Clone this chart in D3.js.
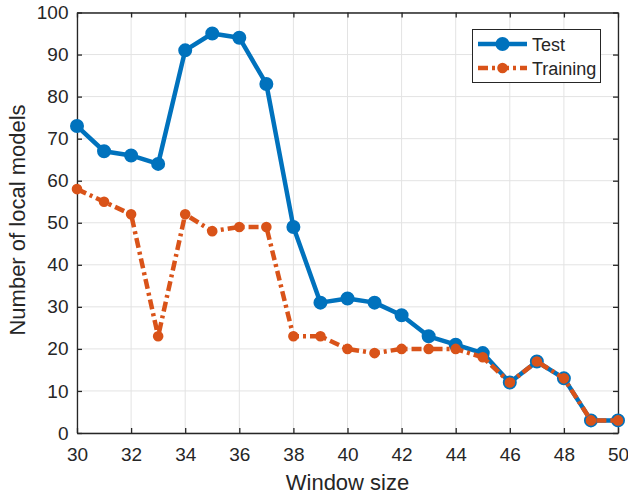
<!DOCTYPE html>
<html><head><meta charset="utf-8">
<script src="https://cdn.jsdelivr.net/npm/d3@7"></script>
<style>body{margin:0;background:#fff}text{font-family:"Liberation Sans",Arial,sans-serif;fill:#262626}</style>
</head><body>
<svg id="c" width="628" height="496"></svg>
<script>
const windowSizes = [30,31,32,33,34,35,36,37,38,39,40,41,42,43,44,45,46,47,48,49,50];
const testValues = [73,67,66,64,91,95,94,83,49,31,32,31,28,23,21,19,12,17,13,3,3];
const trainingValues = [58,55,52,23,52,48,49,49,23,23,20,19,20,20,20,18,12,17,13,3,3];
const xTicks = [30,32,34,36,38,40,42,44,46,48,50];
const yTicks = [0,10,20,30,40,50,60,70,80,90,100];
const seriesNames = ["Test","Training"];

(function(){
const svg = d3.select("#c");
const L=77,R=618,T=12.5,B=433;
const x = d3.scaleLinear().domain([30,50]).range([L,R]);
const y = d3.scaleLinear().domain([0,100]).range([B,T]);

// grid
const g = svg.append("g");
g.selectAll(".gx").data(xTicks).enter().append("line")
 .attr("x1",d=>x(d)).attr("x2",d=>x(d)).attr("y1",T).attr("y2",B)
 .attr("stroke","#e3e3e3").attr("stroke-width",1);
g.selectAll(".gy").data(yTicks).enter().append("line")
 .attr("y1",d=>y(d)).attr("y2",d=>y(d)).attr("x1",L).attr("x2",R)
 .attr("stroke","#e3e3e3").attr("stroke-width",1);

// axes
const axCol="#262626";
const axB = svg.append("g").attr("transform",`translate(0,${B})`)
 .call(d3.axisBottom(x).tickValues(xTicks).tickSizeInner(-5).tickSizeOuter(0).tickPadding(15));
const axL = svg.append("g").attr("transform",`translate(${L},0)`)
 .call(d3.axisLeft(y).tickValues(yTicks).tickSizeInner(-5).tickSizeOuter(0).tickPadding(8.5));
const axT = svg.append("g").attr("transform",`translate(0,${T})`)
 .call(d3.axisTop(x).tickValues(xTicks).tickSizeInner(-5).tickSizeOuter(0).tickFormat(""));
const axR = svg.append("g").attr("transform",`translate(${R},0)`)
 .call(d3.axisRight(y).tickValues(yTicks).tickSizeInner(-5).tickSizeOuter(0).tickFormat(""));
[axB,axL,axT,axR].forEach(a=>{
  a.selectAll("path").attr("stroke",axCol).attr("stroke-width",1.3);
  a.selectAll("line").attr("stroke",axCol).attr("stroke-width",1.3);
  a.selectAll("text").style("font-size","19px").attr("fill","#262626").style("font-family","'Liberation Sans',Arial,sans-serif");
});

const blue="#0072BD", orange="#D95319";
const line = d3.line().x((d,i)=>x(windowSizes[i])).y(d=>y(d));

// Test
svg.append("path").datum(testValues).attr("d",line).attr("fill","none")
 .attr("stroke",blue).attr("stroke-width",4.5).attr("stroke-linejoin","round");
svg.selectAll(".tm").data(testValues).enter().append("circle")
 .attr("cx",(d,i)=>x(windowSizes[i])).attr("cy",d=>y(d)).attr("r",6)
 .attr("fill",blue).attr("stroke",blue).attr("stroke-width",2);

// Training
svg.append("path").datum(trainingValues).attr("d",line).attr("fill","none")
 .attr("stroke",orange).attr("stroke-width",4.5).attr("stroke-dasharray","10,4,3,4");
svg.selectAll(".rm").data(trainingValues).enter().append("circle")
 .attr("cx",(d,i)=>x(windowSizes[i])).attr("cy",d=>y(d)).attr("r",4.3)
 .attr("fill",orange).attr("stroke",orange).attr("stroke-width",2);

// labels
svg.append("text").attr("x",(L+R)/2).attr("y",490).attr("text-anchor","middle")
 .style("font-size","22px").text("Window size");
svg.append("text").attr("transform",`translate(25,220) rotate(-90)`).attr("text-anchor","middle")
 .style("font-size","22px").text("Number of local models");

// legend
const lg = svg.append("g");
lg.append("rect").attr("x",472.5).attr("y",29.5).attr("width",128).attr("height",53)
 .attr("fill","#fff").attr("stroke",axCol).attr("stroke-width",1);
const rows=[{n:seriesNames[0],c:blue,dash:null,r:6,yy:44},{n:seriesNames[1],c:orange,dash:"10,4,3,4",r:4.3,yy:68}];
rows.forEach(o=>{
  lg.append("line").attr("x1",478).attr("x2",527).attr("y1",o.yy).attr("y2",o.yy)
   .attr("stroke",o.c).attr("stroke-width",4.5).attr("stroke-dasharray",o.dash);
  lg.append("circle").attr("cx",502.5).attr("cy",o.yy).attr("r",o.r).attr("fill",o.c).attr("stroke",o.c).attr("stroke-width",2);
  lg.append("text").attr("x",532).attr("y",o.yy+6.5).style("font-size","18px").text(o.n);
});
})();
</script>
</body></html>
